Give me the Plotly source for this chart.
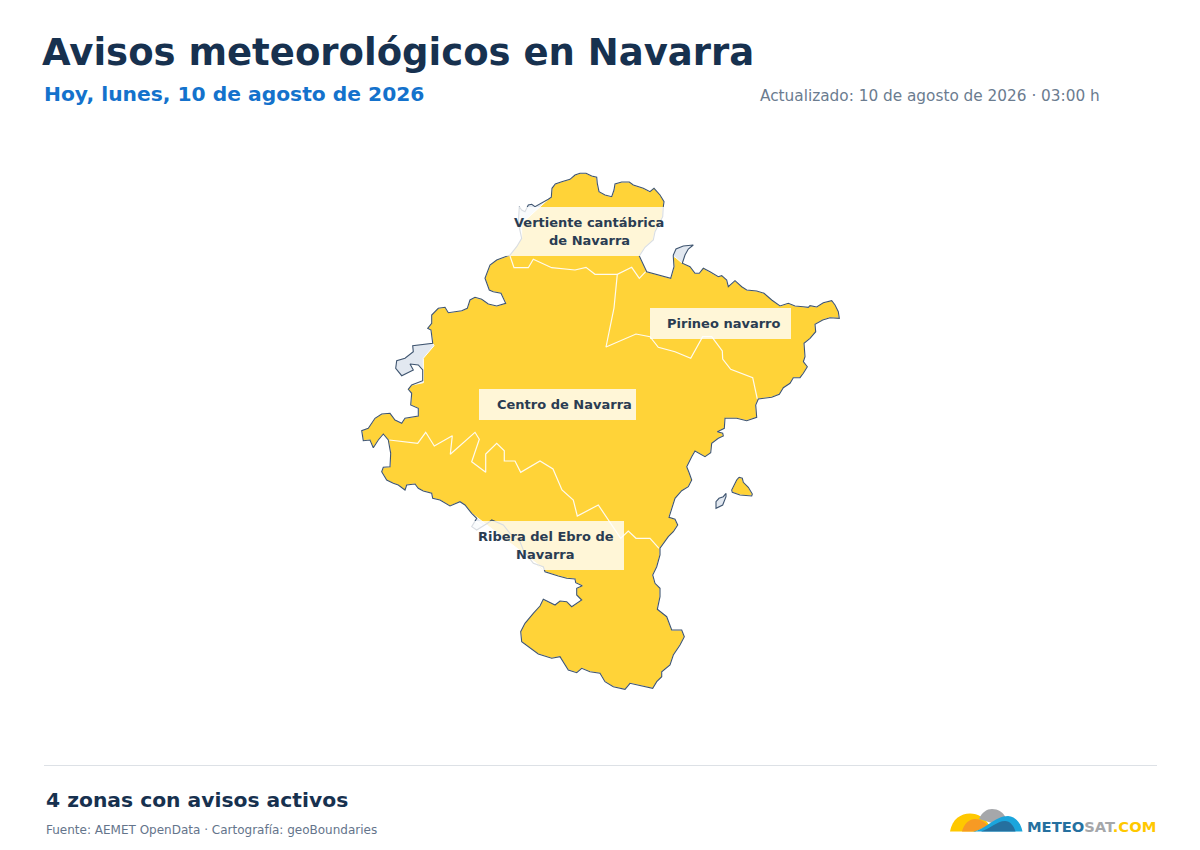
import plotly.graph_objects as go

TITLE = "Avisos meteorológicos en Navarra"
SUBTITLE = "Hoy, lunes, 10 de agosto de 2026"
UPDATED = "Actualizado: 10 de agosto de 2026 · 03:00 h"
SUMMARY = "4 zonas con avisos activos"
SOURCE = "Fuente: AEMET OpenData · Cartografía: geoBoundaries"

# Boundary of Navarra, in map units
coast_a = [(548.3,199.3),(551.3,197.3),(552,188.3),(555.3,184),(561.7,181.7),(570,179.3),(575,175),(580,173.3),(586,173.3),(591.7,176),(596.7,177.3),(597.3,183.3),(599,191.7),(605,195),(611.7,196.7),(614,190),(615,184),(621.7,182),(629.3,182),(633.3,185),(643.3,188.3),(650,191.7),(654,188.3),(660,195),(664,201.7),(663.3,206.7),(662.7,216.7),(655,231.7),(653.3,240),(645,247.3),(639.3,256),(643.3,265),(646.7,271.7),(670.7,278.3),(674,266.7),(673.3,256.7)]
ne_fringe = [(673.3,255),(676,249),(683.3,246),(693.3,245),(688.3,249),(685,255)]
coast_b = [(682.3,263.3),(690,266.7),(695,273.3),(699.3,273.3),(703.3,268.3),(710,271.7),(718.3,276.7),(721.7,275.7),(726.7,280),(728.3,286.7),(735,280.7),(741.7,286.7),(746.7,290),(756.7,291),(764,293.3),(771.7,300),(780,306),(788.3,303.3),(795,306),(803.3,306.7),(808.3,307.3),(810,305.7),(816.7,307),(823.3,302.7),(831.7,300.7),(835,305),(838.3,311.7),(839.3,318.3),(830,317.7),(822.7,320),(815,324.3),(815.7,331.7),(810,338.3),(804,343.3),(805,356.7),(803.3,361.7),(807.3,366.7),(803.3,373.3),(800,377.7),(793.3,377.7),(790,383.3),(783.3,387.7),(779.3,394.3),(771.7,397.3),(758.3,399),(755.7,405),(756.7,417.3),(746.7,420.7),(736.7,418.3),(725,418.3),(724.3,428.3),(717.3,431.7),(722.7,433.3),(723.3,436),(718.3,438.3),(711.7,443.3),(710.7,452.7),(705,456.7),(695,451),(691.7,456.7),(686.7,466.7),(689.3,473.3),(691.7,480),(688.3,486.7),(681.7,490.7),(675,498.3),(671.7,508.3),(669,517.3),(675,519.3),(677.7,525),(673.3,531.7),(668.3,536.7),(660,548.3),(660,555),(656.7,566.7),(652.7,575),(655,583.3),(660,588.3),(660,596.7),(657.3,609.3),(666.7,616.7),(671.7,630),(681.7,630),(684.3,636.7),(680,645),(673.3,655),(670,665),(661.7,671.7),(661.7,676.7),(656.7,681.7),(652.7,688.3),(641.7,686),(630,683.3),(625,689.3),(613.3,686.7),(605,681.7),(600,673.3),(590,671.7),(581.7,668.3),(576.7,672.7),(568.3,670),(560,656.7),(551.7,658.3),(538.3,654),(528.3,646.7),(521.7,641.7),(520.7,631.7),(525,623.3),(533.3,613.3),(540,606),(543.3,599.3),(548.3,601.7),(555,605),(560,601),(566.7,601.7),(571.7,606.7),(581.7,600),(576.7,595),(576.7,588.3),(582.3,585.7),(575.7,582.7),(575,579),(566.7,578.3),(558.3,576),(545,571.7)]
ribera_fringe = [(543.3,566.7),(533.3,563.3),(523.3,550),(520,541.7),(510,533.3),(503.3,525),(491.7,520),(488.3,522.7),(476.7,530),(471.7,526.7),(476.7,518.3)]
coast_c = [(471.7,513.3),(465,505),(460,501.7),(450,506),(440,500),(432.7,498.3),(431.7,493.3),(423.3,491),(418.3,488.3),(415,484),(406.7,485),(405,490),(398.3,485),(393.3,483.3),(386.7,480),(381.7,471.7),(383.3,467.3),(390,466.7),(390.7,453.3),(388.3,440),(383.3,434),(378.3,440),(373.3,447.7),(370,440),(363.3,440.7),(361.7,430.7),(368.3,428.3),(375,418.3),(381.7,414),(390,413.3),(395,420),(401.7,423.3),(405,418.3),(418.3,416),(418.3,408.3),(410.7,405),(411.7,393.3),(408.3,389.3),(411.7,385)]
west_fringe = [(422.7,380.7),(422.7,370),(418.3,365),(410,364),(413.3,370),(401.7,375.7),(395.7,368.3),(396.7,360.7),(405,358.3),(413.3,351.7),(412.7,345.7),(420,345)]
coast_d = [(432.7,343.3),(431,330),(427.7,328.3),(431.7,323.3),(431.7,315),(438.3,308.3),(445,307.3),(448.3,312.7),(461.7,310.7),(467.3,308.3),(470,300),(475,297.3),(481.7,299.3),(488.3,304),(496.7,306),(505.7,303.3),(501,293.3),(493.3,291.7),(489.3,290),(485,278.3),(490,265),(496.7,260),(510,255)]
nw_fringe = [(516.7,246.7),(521.7,238.3),(518.3,223.3),(519.3,206.7),(521.7,210),(525,211.7),(528.3,205),(531.7,204.3),(535,206.7),(538.3,205),(543.3,202.7)]
isle_yellow = [(739,477.3),(742.3,478.3),(743.3,482.3),(748.3,487.3),(752.3,494),(751.7,496),(740,495),(732.3,492.3),(731.7,490),(736.7,480)]
isle_grey = [(726,493.3),(726,496.7),(722.7,505),(716,508.3),(716,501.7),(719,498.3),(723.3,496.7)]

# Where the warned zones stop short of the boundary
ne_cut = [(675,257)]
ribera_cut = [(475,520.7),(545,570)]
west_cut = [(423.3,382.7),(423.3,358.3),(434,345.7)]
nw_cut = [(521.7,238.3),(521.7,223.3)]

# Borders between zones
border_cantabrica = [(510,256),(514,267.7),(528.3,267.7),(533.3,259.3),(551.7,267.7),(575,270),(586,267.3),(595,274.3),(617.3,274.3),(631.7,267.3),(639.3,278.3),(645.7,271.7)]
border_pirineo = [(617.3,274.3),(614,308),(606,347),(636,334),(650,336.7),(658.3,347.3),(675,351.7),(690.7,358.3),(702.7,336.7),(711.7,336.7),(722.3,351),(722.7,359),(730.7,369.3),(752.7,377.7),(757.3,399)]
border_ribera = [(389.3,440),(417.7,443.3),(425.7,432.3),(434.3,446),(452.3,435.7),(450.3,454.3),(475,432.3),(479.3,439.3),(471.7,461.7),(485.7,472.3),(485.7,454),(496.7,443.3),(504.3,450.7),(504.3,461),(515,461),(520.7,472.3),(540,461),(553,469),(562,490),(573.3,500),(577.3,516),(598.3,505),(620.7,538.3),(628.3,531),(636,538.3),(650,538.3),(659,548.3)]

zone_lines = ["Vertiente cantábrica", "de Navarra", "Pirineo navarro", "Centro de Navarra", "Ribera del Ebro de", "Navarra"]
zone_label_x = [589, 589, 723, 564.5, 545.5, 545.5]
zone_label_y = [222.5, 240.5, 323.5, 404.5, 536.5, 554.5]
zone_box_x0 = [505, 650, 479, 466]
zone_box_x1 = [665, 791, 636, 624]
zone_box_y0 = [207, 308, 389, 521]
zone_box_y1 = [256, 339, 420, 570]

FONT = "DejaVu Sans"
YELLOW = "#FFD338"
GREY = "#E2E8F0"
EDGE = "#3F5570"
NAVY = "#17314F"


def xy(*parts):
    xs, ys = [], []
    for p in parts:
        xs += [a for a, _ in p] + [p[0][0], None]
        ys += [b for _, b in p] + [p[0][1], None]
    return xs[:-1], ys[:-1]


def open_xy(*parts):
    xs, ys = [], []
    for p in parts:
        xs += [a for a, _ in p] + [None]
        ys += [b for _, b in p] + [None]
    return xs[:-1], ys[:-1]


outline = coast_a + ne_fringe + coast_b + ribera_fringe + coast_c + west_fringe + coast_d + nw_fringe
warned = coast_a + ne_cut + coast_b + ribera_cut + coast_c + west_cut + coast_d + nw_cut

fig = go.Figure()
ox, oy = xy(outline, isle_grey, isle_yellow)
fig.add_trace(go.Scatter(x=ox, y=oy, mode="lines", fill="toself", fillcolor=GREY,
                         line=dict(color=GREY, width=0), hoverinfo="skip", showlegend=False))
wx, wy = xy(warned, isle_yellow)
fig.add_trace(go.Scatter(x=wx, y=wy, mode="lines", fill="toself", fillcolor=YELLOW,
                         line=dict(color="#FFFFFF", width=1), hoverinfo="skip", showlegend=False))
bx, by = open_xy(border_cantabrica, border_pirineo, border_ribera)
fig.add_trace(go.Scatter(x=bx, y=by, mode="lines", line=dict(color="#FFFBEF", width=1.2),
                         hoverinfo="skip", showlegend=False))
fig.add_trace(go.Scatter(x=ox, y=oy, mode="lines", line=dict(color=EDGE, width=1.1),
                         hoverinfo="skip", showlegend=False))

shapes = [dict(type="rect", xref="x", yref="y", x0=a, x1=b, y0=c, y1=d,
               fillcolor="rgba(255,255,255,0.8)", line=dict(width=0), layer="above")
          for a, b, c, d in zip(zone_box_x0, zone_box_x1, zone_box_y0, zone_box_y1)]
shapes.append(dict(type="line", xref="x", yref="y", x0=44, x1=1157, y0=765.5, y1=765.5,
                   line=dict(color="#DDE1E6", width=1)))
# Logo
for path, col in [
    ("M 950 831.5 C 952 819, 961 813.5, 970 813.5 C 978 813.5, 985 818, 989 825 L 975 831.5 Z", "#FFC800"),
    ("M 979 819 C 982 812, 987 809, 992 809 C 998 809, 1003 812, 1006 818 L 995 824 Z", "#A5A7AA"),
    ("M 962 831.5 C 964 823, 970 819, 975 819 C 981 819, 985 822, 988 826 L 975 831.5 Z", "#F79A24"),
    ("M 973 831.5 C 985 830, 995 816, 1008 816 C 1015 816, 1021 823, 1022.5 831.5 Z", "#1BA5DC"),
    ("M 981 831.5 C 990 829, 997 821, 1005 821 C 1010 821, 1014 826, 1015.5 831.5 Z", "#25709F"),
]:
    shapes.append(dict(type="path", xref="x", yref="y", path=path, fillcolor=col,
                       line=dict(width=0), layer="above"))


def txt(x, y, s, size, color, anchor="left", bold=False):
    return dict(x=x, y=y, xref="x", yref="y", text=f"<b>{s}</b>" if bold else s, showarrow=False,
                xanchor=anchor, yanchor="middle", align="center" if anchor == "center" else anchor,
                font=dict(family=FONT, size=size, color=color))


ann = [
    txt(40, 52, TITLE, 37, NAVY, bold=True),
    txt(42, 94, SUBTITLE, 20.25, "#1472CC", bold=True),
    txt(1101.5, 96, UPDATED, 15.3, "#6B7C8F", anchor="right"),
    txt(44, 800, SUMMARY, 20.3, NAVY, bold=True),
    txt(44, 830, SOURCE, 12, "#64748B"),
    txt(1025, 826, '<span style="color:#25709F">METEO</span><span style="color:#A5A7AA">SAT</span><span style="color:#FFC800">.COM</span>',
        14.7, "#25709F", bold=True),
]
for name, x, y in zip(zone_lines, zone_label_x, zone_label_y):
    ann.append(txt(x, y, name, 13, "#2A3C52", anchor="center", bold=True))

fig.update_layout(
    width=1200, height=850, margin=dict(l=0, r=0, t=0, b=0),
    paper_bgcolor="#FFFFFF", plot_bgcolor="#FFFFFF", showlegend=False,
    xaxis=dict(range=[0, 1200], visible=False, fixedrange=True),
    yaxis=dict(range=[850, 0], visible=False, fixedrange=True),
    shapes=shapes, annotations=ann, font=dict(family=FONT),
)
fig.write_html("out.html", config={"displayModeBar": False},
               post_script="document.body.style.margin='0';document.documentElement.style.overflow='hidden';")
